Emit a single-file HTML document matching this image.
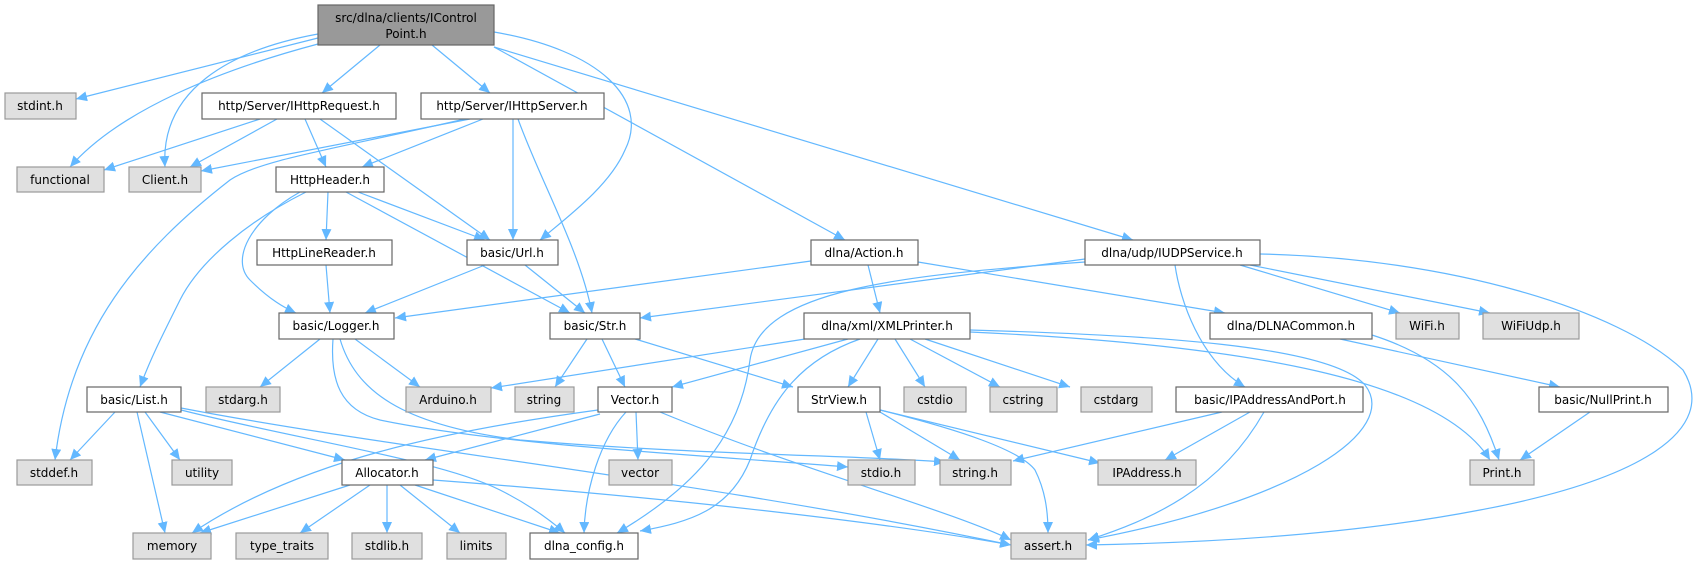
<!DOCTYPE html>
<html><head><meta charset="utf-8"><style>
html,body{margin:0;padding:0;background:#fff;}
svg{display:block;}
text{font-family:"DejaVu Sans","Liberation Sans",sans-serif;font-size:12px;fill:#000;text-anchor:middle;}
.e{fill:none;stroke:#63b8ff;stroke-width:1.2;marker-end:url(#a);}
.w{fill:#fff;stroke:#666;stroke-width:1.2;}
.g{fill:#e0e0e0;stroke:#999;stroke-width:1.2;}
</style></head><body>
<svg width="1693" height="564" viewBox="0 0 1693 564" xmlns="http://www.w3.org/2000/svg">
<defs><marker id="a" markerUnits="userSpaceOnUse" markerWidth="12" markerHeight="10" refX="11" refY="5" orient="auto"><path d="M0,0 L11,5 L0,10 z" fill="#63b8ff"/></marker></defs>
<g>
<path class="e" d="M318,38 L76,99"/>
<path class="e" d="M318,44 C220,70 120,110 70,167"/>
<path class="e" d="M318,34 C230,50 160,90 165,167"/>
<path class="e" d="M380,45 L322,93"/>
<path class="e" d="M432,45 L490,93"/>
<path class="e" d="M494,32 C600,50 650,100 625,150 C610,185 570,215 540,240"/>
<path class="e" d="M494,47 L845,240"/>
<path class="e" d="M494,47 L1133,240"/>
<path class="e" d="M260,119 L104,170"/>
<path class="e" d="M277,119 L190,167"/>
<path class="e" d="M305,119 L326,167"/>
<path class="e" d="M320,119 L490,240"/>
<path class="e" d="M470,119 L201,171"/>
<path class="e" d="M465,119 C330,150 260,160 230,180 C140,250 70,330 55,460"/>
<path class="e" d="M483,119 L362,167"/>
<path class="e" d="M513,119 L513,240"/>
<path class="e" d="M518,119 C540,180 580,250 592,313"/>
<path class="e" d="M306,192 C250,220 200,260 180,300 C160,340 150,360 140,387"/>
<path class="e" d="M300,192 C250,220 230,260 250,280 C270,300 285,308 296,313"/>
<path class="e" d="M328,192 L326,240"/>
<path class="e" d="M358,192 L485,240"/>
<path class="e" d="M346,192 L570,313"/>
<path class="e" d="M326,265 L330,313"/>
<path class="e" d="M485,265 L365,313"/>
<path class="e" d="M525,265 L585,313"/>
<path class="e" d="M811,261 L395,318"/>
<path class="e" d="M868,265 L880,313"/>
<path class="e" d="M918,262 L1225,313"/>
<path class="e" d="M1085,259 L640,318"/>
<path class="e" d="M1085,262 C900,275 760,290 750,360 C740,440 690,490 617,533"/>
<path class="e" d="M860,339 C800,360 770,400 750,460 C730,510 690,522 640,531"/>
<path class="e" d="M1240,265 L1400,313"/>
<path class="e" d="M1250,265 L1490,313"/>
<path class="e" d="M1175,265 C1180,300 1200,360 1245,387"/>
<path class="e" d="M1260,254 C1450,258 1620,310 1683,370 C1720,430 1640,480 1480,510 C1350,535 1200,543 1086,545"/>
<path class="e" d="M320,339 L260,387"/>
<path class="e" d="M355,339 L420,387"/>
<path class="e" d="M333,339 C330,380 340,410 380,420 C500,445 700,455 848,467"/>
<path class="e" d="M340,339 C355,390 400,425 520,440 C700,455 850,455 945,462"/>
<path class="e" d="M587,339 L555,387"/>
<path class="e" d="M602,339 L625,387"/>
<path class="e" d="M635,339 L793,387"/>
<path class="e" d="M805,339 L491,388"/>
<path class="e" d="M848,339 L672,387"/>
<path class="e" d="M878,339 L848,387"/>
<path class="e" d="M895,339 L925,387"/>
<path class="e" d="M910,339 L1000,387"/>
<path class="e" d="M925,339 L1070,387"/>
<path class="e" d="M970,330 C1150,335 1330,345 1365,385 C1400,430 1300,500 1088,540"/>
<path class="e" d="M970,332 C1250,345 1440,380 1490,460"/>
<path class="e" d="M1372,335 C1450,360 1480,400 1499,460"/>
<path class="e" d="M1340,339 L1560,387"/>
<path class="e" d="M1590,412 L1520,460"/>
<path class="e" d="M1250,412 L1165,460"/>
<path class="e" d="M1222,412 L1013,461"/>
<path class="e" d="M1264,412 C1220,490 1150,520 1088,540"/>
<path class="e" d="M866,412 L880,460"/>
<path class="e" d="M880,412 L960,460"/>
<path class="e" d="M880,410 L1100,463"/>
<path class="e" d="M880,410 C960,430 1020,450 1035,470 C1045,490 1048,510 1048,533"/>
<path class="e" d="M115,412 L70,460"/>
<path class="e" d="M137,412 L165,533"/>
<path class="e" d="M145,412 L180,460"/>
<path class="e" d="M160,412 L345,460"/>
<path class="e" d="M181,410 C300,440 440,460 500,490 C530,505 550,520 565,533"/>
<path class="e" d="M181,408 C400,450 700,480 1011,545"/>
<path class="e" d="M598,410 C450,430 300,460 192,533"/>
<path class="e" d="M600,414 L425,460"/>
<path class="e" d="M636,412 L638,460"/>
<path class="e" d="M626,412 C600,440 585,490 584,533"/>
<path class="e" d="M660,412 C800,470 950,510 1011,540"/>
<path class="e" d="M350,485 L200,533"/>
<path class="e" d="M370,485 L300,533"/>
<path class="e" d="M387,485 L387,533"/>
<path class="e" d="M400,485 L460,533"/>
<path class="e" d="M415,485 L560,533"/>
<path class="e" d="M433,480 C700,500 900,525 1011,545"/>
</g>
<g>
<rect x="318" y="5" width="176" height="40" fill="#999" stroke="#666" stroke-width="1.2"/>
<text x="406" y="22">src/dlna/clients/IControl</text><text x="406" y="38">Point.h</text>
<rect class="g" x="5" y="93" width="71" height="26"/><text x="40" y="110">stdint.h</text>
<rect class="w" x="202" y="93" width="194" height="26"/><text x="299" y="110">http/Server/IHttpRequest.h</text>
<rect class="w" x="421" y="93" width="183" height="26"/><text x="512" y="110">http/Server/IHttpServer.h</text>
<rect class="g" x="17" y="167" width="87" height="25"/><text x="60" y="184">functional</text>
<rect class="g" x="129" y="167" width="72" height="25"/><text x="165" y="184">Client.h</text>
<rect class="w" x="276" y="167" width="108" height="25"/><text x="330" y="184">HttpHeader.h</text>
<rect class="w" x="257" y="240" width="135" height="25"/><text x="324" y="257">HttpLineReader.h</text>
<rect class="w" x="467" y="240" width="91" height="25"/><text x="512" y="257">basic/Url.h</text>
<rect class="w" x="811" y="240" width="107" height="25"/><text x="864" y="257">dlna/Action.h</text>
<rect class="w" x="1085" y="240" width="175" height="25"/><text x="1172" y="257">dlna/udp/IUDPService.h</text>
<rect class="w" x="279" y="313" width="115" height="26"/><text x="336" y="330">basic/Logger.h</text>
<rect class="w" x="550" y="313" width="90" height="26"/><text x="595" y="330">basic/Str.h</text>
<rect class="w" x="804" y="313" width="166" height="26"/><text x="887" y="330">dlna/xml/XMLPrinter.h</text>
<rect class="w" x="1210" y="313" width="162" height="26"/><text x="1291" y="330">dlna/DLNACommon.h</text>
<rect class="g" x="1396" y="313" width="63" height="26"/><text x="1427" y="330">WiFi.h</text>
<rect class="g" x="1483" y="313" width="96" height="26"/><text x="1531" y="330">WiFiUdp.h</text>
<rect class="w" x="87" y="387" width="94" height="25"/><text x="134" y="404">basic/List.h</text>
<rect class="g" x="206" y="387" width="74" height="25"/><text x="243" y="404">stdarg.h</text>
<rect class="g" x="406" y="387" width="85" height="25"/><text x="448" y="404">Arduino.h</text>
<rect class="g" x="515" y="387" width="59" height="25"/><text x="544" y="404">string</text>
<rect class="w" x="598" y="387" width="74" height="25"/><text x="635" y="404">Vector.h</text>
<rect class="w" x="798" y="387" width="82" height="25"/><text x="839" y="404">StrView.h</text>
<rect class="g" x="904" y="387" width="62" height="25"/><text x="935" y="404">cstdio</text>
<rect class="g" x="990" y="387" width="67" height="25"/><text x="1023" y="404">cstring</text>
<rect class="g" x="1081" y="387" width="71" height="25"/><text x="1116" y="404">cstdarg</text>
<rect class="w" x="1176" y="387" width="187" height="25"/><text x="1270" y="404">basic/IPAddressAndPort.h</text>
<rect class="w" x="1539" y="387" width="129" height="25"/><text x="1603" y="404">basic/NullPrint.h</text>
<rect class="g" x="17" y="460" width="75" height="25"/><text x="54" y="477">stddef.h</text>
<rect class="g" x="172" y="460" width="60" height="25"/><text x="202" y="477">utility</text>
<rect class="w" x="342" y="460" width="91" height="25"/><text x="387" y="477">Allocator.h</text>
<rect class="g" x="609" y="460" width="63" height="25"/><text x="640" y="477">vector</text>
<rect class="g" x="848" y="460" width="67" height="25"/><text x="881" y="477">stdio.h</text>
<rect class="g" x="940" y="460" width="71" height="25"/><text x="975" y="477">string.h</text>
<rect class="g" x="1098" y="460" width="98" height="25"/><text x="1147" y="477">IPAddress.h</text>
<rect class="g" x="1470" y="460" width="64" height="25"/><text x="1502" y="477">Print.h</text>
<rect class="g" x="133" y="533" width="78" height="26"/><text x="172" y="550">memory</text>
<rect class="g" x="236" y="533" width="92" height="26"/><text x="282" y="550">type_traits</text>
<rect class="g" x="352" y="533" width="70" height="26"/><text x="387" y="550">stdlib.h</text>
<rect class="g" x="447" y="533" width="59" height="26"/><text x="476" y="550">limits</text>
<rect class="w" x="530" y="533" width="108" height="26"/><text x="584" y="550">dlna_config.h</text>
<rect class="g" x="1011" y="533" width="75" height="26"/><text x="1048" y="550">assert.h</text>
</g>
</svg>
</body></html>
